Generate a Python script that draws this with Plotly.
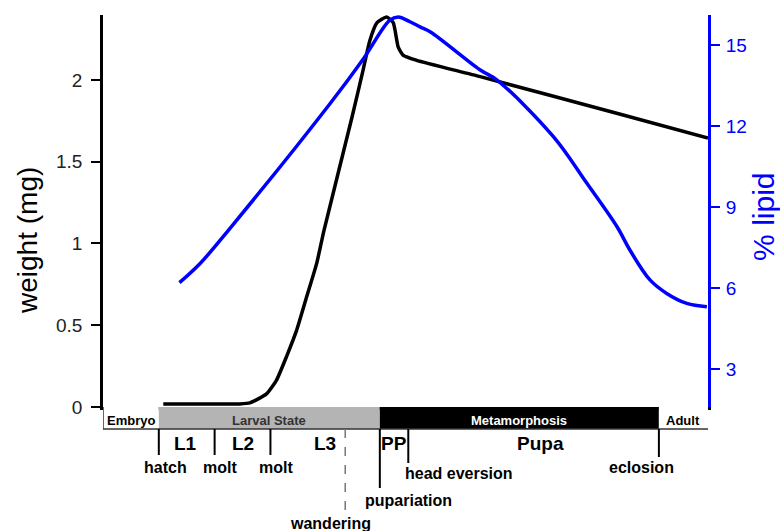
import plotly.graph_objects as go

# ---------------- data ----------------
# development time in days; weight in mg
weight_days = [1.08, 1.9, 2.45, 2.63, 2.93, 3.11, 3.29, 3.47, 3.65, 3.83, 3.96, 4.46, 4.66, 4.78,
               4.91, 5.08, 5.20, 5.29, 5.38, 5.62, 6.76, 9.27, 10.84]
weight_mg = [0.018, 0.018, 0.019, 0.025, 0.08, 0.165, 0.31, 0.47, 0.675, 0.88, 1.08, 1.77, 2.06, 2.24,
             2.35, 2.385, 2.35, 2.20, 2.15, 2.12, 2.02, 1.79, 1.645]

# % lipid
lipid_days = [1.37, 1.74, 2.25, 4.07, 4.67, 5.14, 5.29, 5.50, 5.68, 5.86, 6.76, 7.06,
              8.07, 8.67, 9.21, 9.44, 9.80, 10.10, 10.46, 10.82]
lipid_pct = [6.21, 6.92, 8.16, 12.85, 14.52, 15.94, 16.06, 15.88, 15.69, 15.51, 14.09, 13.72,
             11.62, 9.89, 8.28, 7.42, 6.31, 5.81, 5.44, 5.32]

stage_names = ["Embryo", "Larval State", "Metamorphosis", "Adult"]
stage_start = [0.0, 1.0, 4.96, 9.96]
stage_end = [1.0, 4.96, 9.96, 10.84]

event_names = ["hatch", "molt", "molt", "wandering", "pupariation", "head eversion", "eclosion"]
event_days = [1.0, 2.0, 3.0, 4.34, 4.96, 5.47, 9.96]

period_names = ["L1", "L2", "L3", "PP", "Pupa"]
period_start = [1.0, 2.0, 3.0, 4.96, 5.47]
period_end = [2.0, 3.0, 4.96, 5.47, 9.96]

weight_ticks = [0, 0.5, 1, 1.5, 2]
lipid_ticks = [3, 6, 9, 12, 15]

# ---------------- styles ----------------
FONT = "Liberation Sans, Arial, sans-serif"
BLUE = "rgb(0,0,255)"
stage_fill = ["white", "#b4b4b4", "black", "white"]
stage_text = ["black", "#333333", "white", "black"]
event_len = [26, 26, 26, 89, 59, 34, 28]          # px below the stage bar
event_dash = ["solid", "solid", "solid", "dash", "solid", "solid", "solid"]
event_color = ["black", "black", "black", "#777777", "black", "black", "black"]
event_dx = [7, 5.5, 6, -15, 28.5, 51, -17]
event_dy = [-60, -60, -60, -116, -93, -66, -60]
period_dx = [-1, 0, 0, 0, 7]
BAR_H = 22  # height of stage bar in px

fig = go.Figure()
fig.add_trace(go.Scatter(x=lipid_days, y=lipid_pct, yaxis="y2", mode="lines",
                         line=dict(color=BLUE, width=3.5, shape="spline", smoothing=1.0),
                         showlegend=False, hoverinfo="skip"))
fig.add_trace(go.Scatter(x=weight_days, y=weight_mg, mode="lines",
                         line=dict(color="black", width=3.5, shape="spline", smoothing=0.5),
                         showlegend=False, hoverinfo="skip"))

shapes = []
annotations = []

def pxrect(x0, x1, y0, y1, **kw):
    return dict(type="rect", xref="x", yref="paper", yanchor=0, ysizemode="pixel",
                x0=x0, x1=x1, y0=y0, y1=y1, **kw)

def pxline(x, y0, y1, **kw):
    return dict(type="line", xref="x", yref="paper", yanchor=0, ysizemode="pixel",
                x0=x, x1=x, y0=y0, y1=y1, **kw)

def label(text, x, dx, dy, size, color, xref="x"):
    return dict(x=x, xref=xref, y=0, yref="paper", xshift=dx, yshift=dy,
                xanchor="center", yanchor="middle", text=text, showarrow=False,
                font=dict(family=FONT, size=size, color=color))

# stage bar
for name, s, e, fc, tc in zip(stage_names, stage_start, stage_end, stage_fill, stage_text):
    shapes.append(pxrect(s, e, -BAR_H, 0, fillcolor=fc, line=dict(width=0), layer="above"))
    annotations.append(label(f"<b>{name}</b>", (s + e) / 2, 0, -13, 13, tc))
# bar bottom and left border
shapes.append(dict(type="line", xref="x", yref="paper", yanchor=0, ysizemode="pixel",
                   x0=stage_start[0], x1=stage_end[-1], y0=-BAR_H, y1=-BAR_H,
                   line=dict(color="#333333", width=1.5)))
shapes.append(pxline(stage_start[0], 0, -BAR_H, line=dict(color="#333333", width=1.5)))

# events
for name, d, L, ds, c, dx, dy in zip(event_names, event_days, event_len, event_dash,
                                      event_color, event_dx, event_dy):
    shapes.append(pxline(d, -BAR_H, -BAR_H - L,
                         line=dict(color=c, width=2 if ds == "solid" else 1.5, dash=ds)))
    annotations.append(label(f"<b>{name}</b>", d, dx, dy, 16, "black"))

# developmental periods
for name, s, e, dx in zip(period_names, period_start, period_end, period_dx):
    annotations.append(label(f"<b>{name}</b>", (s + e) / 2, dx, -36, 19, "black"))

# axis titles
annotations.append(dict(text="weight (mg)", x=0, xref="paper", xshift=-75, y=0.4235,
                        yref="paper", xanchor="center", yanchor="middle",
                        textangle=-90, showarrow=False,
                        font=dict(family=FONT, size=28, color="black")))
annotations.append(dict(text="% lipid", x=1, xref="paper", xshift=56, y=0.485,
                        yref="paper", xanchor="center", yanchor="middle",
                        textangle=-90, showarrow=False,
                        font=dict(family=FONT, size=30, color=BLUE)))

fig.update_layout(
    width=780, height=531,
    margin=dict(l=103, r=72, t=15, b=124),
    paper_bgcolor="white", plot_bgcolor="white",
    font=dict(family=FONT),
    xaxis=dict(range=[0, 10.84], showgrid=False, zeroline=False, showticklabels=False,
               ticks="", showline=True, linecolor="black", linewidth=2.5),
    yaxis=dict(range=[0, 2.397], tickvals=weight_ticks,
               ticktext=[f"{v:g}" for v in weight_ticks],
               showgrid=False, zeroline=False, showline=True, linecolor="black",
               linewidth=2.5, ticks="outside", ticklen=9, tickwidth=2, tickcolor="black",
               tickfont=dict(family=FONT, size=19, color="#222222"), ticklabelstandoff=5),
    yaxis2=dict(range=[1.60, 16.13], overlaying="y", side="right", tickvals=lipid_ticks,
                showgrid=False, zeroline=False, showline=True, linecolor=BLUE,
                linewidth=3, ticks="outside", ticklen=9, tickwidth=2, tickcolor=BLUE,
                tickfont=dict(family=FONT, size=19, color=BLUE), ticklabelstandoff=2),
    shapes=shapes, annotations=annotations,
)

fig.write_html("out.html")
